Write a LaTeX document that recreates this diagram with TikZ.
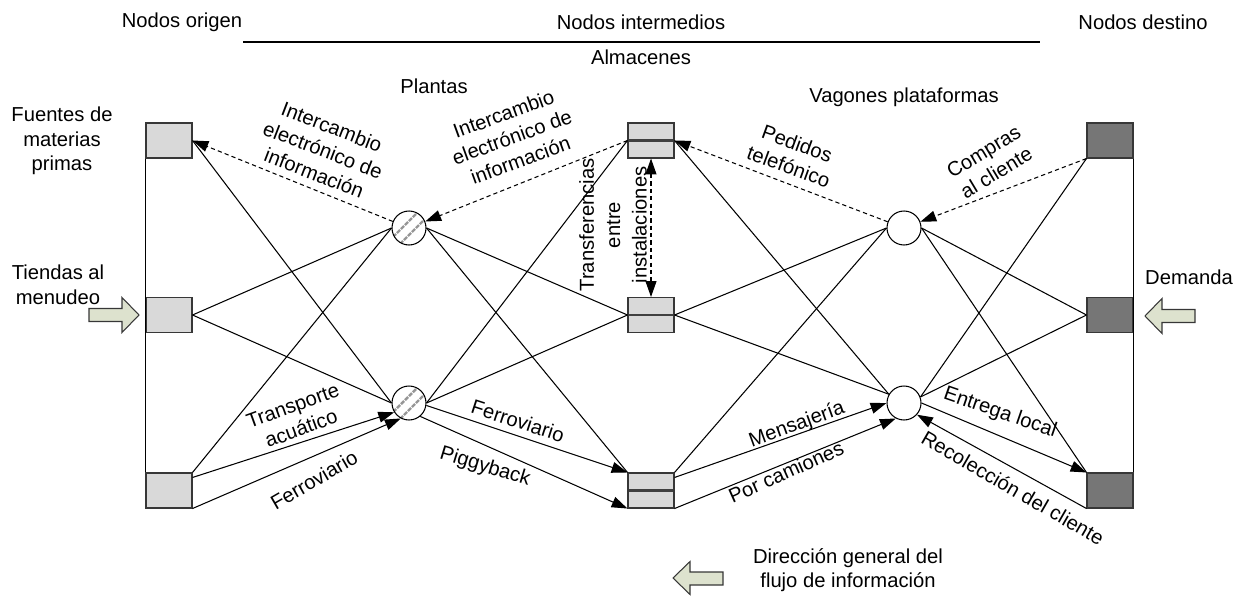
\documentclass[tikz,border=0pt]{standalone}
\usepackage{fontspec}
\setmainfont{Liberation Sans}
\usetikzlibrary{arrows.meta,calc}

\definecolor{boxlight}{RGB}{217,217,217}
\definecolor{boxdark}{RGB}{118,118,118}
\definecolor{edgegray}{RGB}{55,55,55}
\definecolor{bigarrow}{RGB}{221,226,206}
\definecolor{hatch}{RGB}{150,150,150}

\begin{document}
\begin{tikzpicture}[x=0.02cm,y=-0.02cm,
  every node/.style={font=\fontsize{11.5}{14}\selectfont},
  lbl/.style={align=center, inner sep=1pt},
  srcbox/.style={draw=edgegray, fill=boxlight, line width=0.6pt,
    minimum width=0.92cm, minimum height=0.70cm, inner sep=0pt},
  dstbox/.style={srcbox, fill=boxdark},
  store/.style={srcbox, path picture={
      \draw[black!75, line width=1.6pt]
        (path picture bounding box.west) -- (path picture bounding box.east);}},
  hubplain/.style={circle, draw=black, fill=white, line width=0.6pt,
    minimum size=0.68cm, inner sep=0pt},
  hub/.style={hubplain, path picture={
      \draw[hatch, line width=1.4pt, dash pattern=on 2.5pt off 0.7pt]
        ([shift={(-0.40cm,-0.26cm)}]path picture bounding box.center)
        -- ([shift={(0.26cm,0.40cm)}]path picture bounding box.center);
      \draw[hatch, line width=1.4pt, dash pattern=on 2.5pt off 0.7pt]
        ([shift={(-0.26cm,-0.40cm)}]path picture bounding box.center)
        -- ([shift={(0.40cm,0.26cm)}]path picture bounding box.center);}},
  link/.style={draw=black, line width=0.6pt},
  flow/.style={link, -{Triangle[length=9pt,width=6.2pt]}},
  info/.style={flow, dash pattern=on 2.4pt off 1.8pt},
  fat/.style={draw=edgegray, fill=bigarrow, line width=0.6pt, line join=miter}
]
\useasboundingbox (0,0) rectangle (1247,598);

% column headings
\node[lbl] (h-orig) at (182,22) {Nodos origen};
\node[lbl] (h-mid)  at (641,22) {Nodos intermedios};
\node[lbl] (h-dest) at (1143,22) {Nodos destino};
\coordinate (rule-l) at (243,42);
\coordinate (rule-r) at (1040,42);
\draw[link] (rule-l) -- (rule-r);
\node[lbl] (h-alm) at (641,57) {Almacenes};
\node[lbl] (h-pla) at (434,86) {Plantas};
\node[lbl] (h-vag) at (904,97) {Vagones plataformas};

% side captions
\node[lbl] (c-src)  at (62,141) {Fuentes de\\materias\\primas};
\node[lbl] (c-shop) at (58,285) {Tiendas al\\menudeo};
\node[lbl] (c-dem)  at (1189,277) {Demanda};
\node[lbl] (c-dir)  at (848,570) {Dirección general del\\flujo de información};

% network nodes
\node[srcbox] (s1) at (169,140.5) {};
\node[srcbox] (s2) at (169,315) {};
\node[srcbox] (s3) at (169,490.5) {};
\node[hub] (p1) at (409,228) {};
\node[hub] (p2) at (409,403) {};
\node[store] (w1) at (651,140.5) {};
\node[store] (w2) at (651,315) {};
\node[store] (w3) at (651,490.5) {};
\node[hubplain] (r1) at (904,228) {};
\node[hubplain] (r2) at (904,403) {};
\node[dstbox] (d1) at (1110,140.5) {};
\node[dstbox] (d2) at (1110,315) {};
\node[dstbox] (d3) at (1110,490.5) {};

% outer frame lines
\draw[link] (s1.south west) -- (s3.north west);
\draw[link] (d1.south east) -- (d3.north east);

% sources -> plants
\draw[link] (s1.east) -- (p2.west);
\draw[link] (s2.east) -- (p1.west);
\draw[link] (s2.east) -- (p2.west);
\draw[link] (s3.north east) -- (p1.west);
\draw[flow] ([yshift=-0.1cm]s3.north east) -- (p2.212);
\draw[flow] (s3.south east) -- (p2.242);
\draw[info] (p1) -- (s1.east);

% plants -> warehouses
\draw[link] (p1.east) -- (w2.west);
\draw[link] (p1.east) -- (w3.north west);
\draw[link] (p2.east) -- (w1.west);
\draw[link] (p2.east) -- (w2.west);
\draw[flow] (p2.352) -- (w3.north west);
\draw[flow] (p2.310) -- (w3.south west);
\draw[info] (w1.west) -- (p1);
\draw[info, {Triangle[length=9pt,width=6.2pt]}-{Triangle[length=9pt,width=6.2pt]}] (w1.south) -- (w2.north);

% warehouses -> platforms
\draw[link] (w1.east) -- (r2.150);
\draw[link] (w2.east) -- (r1.west);
\draw[link] (w2.east) -- (r2.150);
\draw[link] (w3.north east) -- (r1.west);
\draw[flow] ([yshift=-0.1cm]w3.north east) -- (r2.west);
\draw[flow] (w3.south east) -- (r2.242);
\draw[info] (r1) -- (w1.east);

% platforms -> destinations
\draw[link] (r1.east) -- (d2.west);
\draw[link] (r1.east) -- (d3.north west);
\draw[link] (d1.south west) -- (r2.20);
\draw[link] (d2.west) -- (r2.20);
\draw[flow] (r2.east) -- (d3.north west);
\draw[flow] (d3.south west) -- (r2.318);
\draw[info] (d1.south west) -- (r1);

% connector labels
\node[lbl, rotate=-21] (t-ie1) at (323,150) {Intercambio\\electrónico de\\información};
\node[lbl, rotate=20]  (t-ie2) at (512,137) {Intercambio\\electrónico de\\información};
\node[lbl, rotate=90, font=\fontsize{11.5}{15}\selectfont] (t-tr) at (613,225) {Transferencias\\entre\\instalaciones};
\node[lbl, rotate=-20] (t-ped) at (793,155) {Pedidos\\telefónico};
\node[lbl, rotate=31]  (t-com) at (990,162) {Compras\\al cliente};
\node[lbl, rotate=20]  (t-acu) at (297,417) {Transporte\\acuático};
\node[lbl, rotate=30]  (t-fe1) at (314,480) {Ferroviario};
\node[lbl, rotate=-18] (t-fe2) at (518,421) {Ferroviario};
\node[lbl, rotate=-17] (t-pig) at (485,467) {Piggyback};
\node[lbl, rotate=20]  (t-men) at (797,425) {Mensajería};
\node[lbl, rotate=24]  (t-cam) at (786,472) {Por camiones};
\node[lbl, rotate=-19] (t-ent) at (1000,413) {Entrega local};
\node[lbl, rotate=-30] (t-rec) at (1013,488) {Recolección del cliente};

% broad direction arrows
\coordinate (in-l) at (139,315);
\draw[fat] (in-l) -- (122,297.5) -- (122,308.5) -- (89,308.5) -- (89,321.5)
  -- (122,321.5) -- (122,332.5) -- cycle;
\coordinate (in-r) at (1145,316);
\draw[fat] (in-r) -- (1162,298.5) -- (1162,309.5) -- (1195,309.5) -- (1195,322.5)
  -- (1162,322.5) -- (1162,333.5) -- cycle;
\coordinate (dir) at (673,578);
\draw[fat] (dir) -- (690,561.5) -- (690,572) -- (723,572) -- (723,585)
  -- (690,585) -- (690,594.5) -- cycle;
\end{tikzpicture}
\end{document}
